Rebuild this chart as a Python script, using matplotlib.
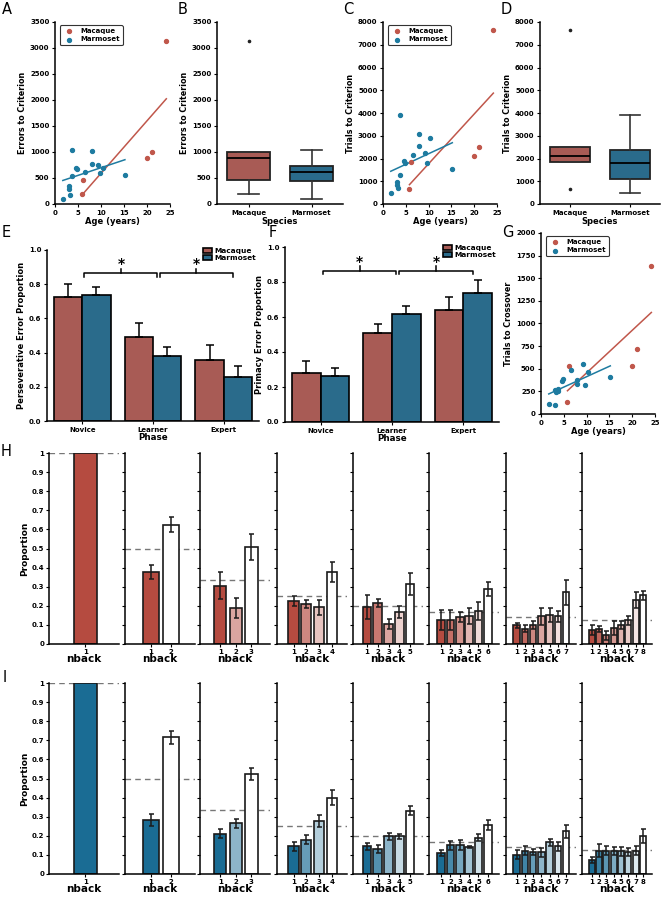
import numpy as np
import matplotlib
matplotlib.use("Agg")
import matplotlib.pyplot as plt
from matplotlib.colors import to_rgb

plt.rcParams['font.family'] = ['DejaVu Sans']
plt.rcParams['font.weight'] = 'bold'
plt.rcParams['axes.labelweight'] = 'bold'
plt.rcParams['axes.linewidth'] = 1.1
plt.rcParams['xtick.major.width'] = 0.8
plt.rcParams['ytick.major.width'] = 0.8
plt.rcParams['xtick.major.size'] = 2.5
plt.rcParams['ytick.major.size'] = 2.5

# ---------------------------------------------------------------- data
mac_age = [5.8, 6.1, 20.0, 21.0, 24.2]
mac_errors = [190, 460, 890, 1006, 3140]
mac_trials = [650, 1840, 2110, 2520, 7650]
mac_crossover = [133, 533, 530, 720, 1630]

mar_age = [1.7, 3.1, 3.1, 3.2, 3.8, 3.8, 4.5, 4.8, 6.5, 8.0, 8.0, 9.3, 9.7, 10.4, 15.2]
mar_errors = [102, 340, 282, 173, 1045, 530, 700, 675, 622, 1015, 765, 744, 600, 698, 555]
mar_trials = [497, 954, 822, 690, 3925, 1275, 1905, 1789, 2139, 3077, 2550, 2229, 1789, 2886, 1524]
mar_crossover = [110, 96, 265, 243, 250, 280, 364, 386, 485, 375, 327, 551, 320, 460, 411]

phases = ['Novice', 'Learner', 'Expert']
persev_mac = [0.727, 0.493, 0.357]
persev_mac_err = [0.073, 0.078, 0.086]
persev_mar = [0.739, 0.382, 0.259]
persev_mar_err = [0.045, 0.053, 0.064]
primacy_mac = [0.28, 0.51, 0.64]
primacy_mac_err = [0.07, 0.05, 0.074]
primacy_mar = [0.263, 0.617, 0.737]
primacy_mar_err = [0.047, 0.046, 0.073]

# nback proportions, one list per number of options (1..8)
mac_nback = [
    [1.0],
    [0.377, 0.625],
    [0.305, 0.188, 0.508],
    [0.225, 0.209, 0.192, 0.377],
    [0.194, 0.215, 0.106, 0.168, 0.314],
    [0.126, 0.126, 0.14, 0.148, 0.173, 0.288],
    [0.098, 0.08, 0.098, 0.145, 0.154, 0.145, 0.27],
    [0.073, 0.079, 0.045, 0.084, 0.098, 0.124, 0.23, 0.255],
]
mac_nback_err = [
    [0.0],
    [0.036, 0.038],
    [0.07, 0.054, 0.066],
    [0.027, 0.023, 0.04, 0.051],
    [0.062, 0.021, 0.027, 0.031, 0.06],
    [0.052, 0.052, 0.025, 0.041, 0.045, 0.037],
    [0.012, 0.017, 0.022, 0.044, 0.037, 0.03, 0.064],
    [0.028, 0.015, 0.025, 0.035, 0.02, 0.022, 0.042, 0.025],
]
mar_nback = [
    [1.0],
    [0.283, 0.715],
    [0.212, 0.265, 0.523],
    [0.146, 0.179, 0.277, 0.4],
    [0.144, 0.132, 0.197, 0.197, 0.332],
    [0.11, 0.15, 0.15, 0.141, 0.19, 0.257],
    [0.1, 0.123, 0.115, 0.113, 0.165, 0.144, 0.223],
    [0.073, 0.123, 0.123, 0.12, 0.118, 0.113, 0.123, 0.197],
]
mar_nback_err = [
    [0.0],
    [0.033, 0.033],
    [0.025, 0.022, 0.033],
    [0.024, 0.023, 0.031, 0.038],
    [0.02, 0.02, 0.02, 0.013, 0.022],
    [0.014, 0.022, 0.026, 0.007, 0.017, 0.026],
    [0.024, 0.024, 0.018, 0.025, 0.018, 0.024, 0.033],
    [0.016, 0.033, 0.023, 0.02, 0.022, 0.021, 0.022, 0.037],
]

MAC_PT = '#C0574B'
MAR_PT = '#1E7BA0'
MAC_BAR = '#A85B55'
MAR_BAR = '#2A6B8B'
H_BASE = '#B54B40'
I_BASE = '#1A6C94'

W, H = 665, 899
fig = plt.figure(figsize=(W / 100, H / 100), dpi=100)


def add_ax(x0, y0, x1, y1):
    return fig.add_axes([x0 / W, 1 - y1 / H, (x1 - x0) / W, (y1 - y0) / H])


def clean(ax):
    ax.spines['top'].set_visible(False)
    ax.spines['right'].set_visible(False)
    ax.tick_params(labelsize=5, pad=1.5)


def letter(x, y, s):
    fig.text(x / W, 1 - y / H, s, fontsize=10.5, fontweight='normal',
             ha='center', va='center')


def scatter_panel(ax, mac_y, mar_y, ymax, ystep, ylabel):
    ax.scatter(mac_age, mac_y, s=8, color=MAC_PT, label='Macaque', zorder=3)
    ax.scatter(mar_age, mar_y, s=8, color=MAR_PT, label='Marmoset', zorder=3)
    for ages, vals, c in [(mac_age, mac_y, MAC_PT), (mar_age, mar_y, MAR_PT)]:
        fit = np.polyfit(ages, vals, 1)
        xs = np.array([min(ages), max(ages)])
        ax.plot(xs, np.polyval(fit, xs), color=c, lw=1.1, zorder=2)
    ax.set_xlim(0, 25)
    ax.set_ylim(0, ymax)
    ax.set_xticks(range(0, 26, 5))
    ax.set_yticks(np.arange(0, ymax + 1, ystep))
    ax.set_xlabel('Age (years)', fontsize=6, labelpad=1)
    ax.set_ylabel(ylabel, fontsize=5.8, labelpad=2)
    leg = ax.legend(loc='upper left', fontsize=5, handletextpad=0.6,
                    borderpad=0.4, labelspacing=0.3, fancybox=True,
                    bbox_to_anchor=(0.01, 1.0), framealpha=1)
    leg.get_frame().set_edgecolor('#333333')
    leg.get_frame().set_linewidth(0.8)
    clean(ax)


def box_panel(ax, mac_y, mar_y, ymax, ystep, ylabel):
    bp = ax.boxplot([mac_y, mar_y], positions=[0, 1], widths=0.68,
                    patch_artist=True, capwidths=0.34,
                    medianprops=dict(color='black', lw=1.3),
                    whiskerprops=dict(color='#333333', lw=1.2),
                    capprops=dict(color='#333333', lw=1.2),
                    boxprops=dict(edgecolor='#222222', lw=1.3),
                    flierprops=dict(marker='o', markersize=1.6,
                                    markerfacecolor='#222222',
                                    markeredgecolor='#222222'))
    for patch, c in zip(bp['boxes'], [MAC_BAR, MAR_BAR]):
        patch.set_facecolor(c)
    ax.set_xlim(-0.5, 1.5)
    ax.set_ylim(0, ymax)
    ax.set_yticks(np.arange(0, ymax + 1, ystep))
    ax.set_xticks([0, 1])
    ax.set_xticklabels(['Macaque', 'Marmoset'], fontsize=5.3)
    ax.set_xlabel('Species', fontsize=6, labelpad=1)
    ax.set_ylabel(ylabel, fontsize=5.8, labelpad=2)
    clean(ax)


def bracket(ax, x1, x2, y):
    ax.plot([x1, x1, x2, x2], [y - 0.02, y, y, y - 0.02], color='black', lw=1.1)
    xm = (x1 + x2) / 2
    ax.plot([xm, xm], [y, y + 0.025], color='black', lw=1.1)
    ax.text(xm, y + 0.012, '*', ha='center', va='bottom', fontsize=10)


def phase_panel(ax, mac, mac_err, mar, mar_err, ylabel):
    x = np.arange(len(phases))
    ax.bar(x - 0.2, mac, width=0.4, color=MAC_BAR, edgecolor='black', lw=1.2,
           label='Macaque')
    ax.bar(x + 0.2, mar, width=0.4, color=MAR_BAR, edgecolor='black', lw=1.2,
           label='Marmoset')
    ax.errorbar(x - 0.2, mac, yerr=[np.zeros(3), mac_err], fmt='none',
                ecolor='black', elinewidth=1.1, capsize=3, capthick=1.1)
    ax.errorbar(x + 0.2, mar, yerr=[np.zeros(3), mar_err], fmt='none',
                ecolor='black', elinewidth=1.1, capsize=3, capthick=1.1)
    bracket(ax, 0.03, 1.06, 0.865)
    bracket(ax, 1.1, 2.13, 0.865)
    ax.set_xlim(-0.5, 2.5)
    ax.set_ylim(0, 1.0)
    ax.set_yticks(np.arange(0, 1.01, 0.2))
    ax.set_yticklabels([f'{v:.1f}' for v in np.arange(0, 1.01, 0.2)])
    ax.set_xticks(x)
    ax.set_xticklabels(phases, fontsize=5.3)
    ax.set_xlabel('Phase', fontsize=6.3, labelpad=0)
    ax.set_ylabel(ylabel, fontsize=6, labelpad=2)
    ax.legend(loc='upper right', bbox_to_anchor=(1.0, 1.03), frameon=False,
              fontsize=5.3, handlelength=1.2, handleheight=0.7,
              handletextpad=0.3, labelspacing=0.15, borderaxespad=0)
    clean(ax)


def nback_row(vals, errs, base, y0, y1):
    lefts = [49, 125, 200, 277, 353, 429, 506, 582]
    base_rgb = np.array(to_rgb(base))
    for k, (v, e) in enumerate(zip(vals, errs)):
        n = len(v)
        ax = add_ax(lefts[k], y0, lefts[k] + 70, y1)
        if n == 1:
            cols = [base_rgb]
        else:
            cols = [base_rgb + (1 - base_rgb) * i / (n - 1) for i in range(n)]
        xs = np.arange(1, n + 1)
        ax.bar(xs, v, width=0.8, color=cols, edgecolor='#1a1a1a', lw=1.2)
        if n > 1:
            ax.errorbar(xs, v, yerr=e, fmt='none', ecolor='#1a1a1a',
                        elinewidth=1.1, capsize=1.8, capthick=1.1)
        ax.axhline(1 / n, color='#777777', ls=(0, (4, 3)), lw=1.0, zorder=0)
        ax.set_xlim(-0.3, n + 1.2)
        ax.set_ylim(0, 1)
        ax.set_xticks(xs)
        ax.set_xticklabels([str(i) for i in xs], fontsize=5.3)
        ax.set_yticks(np.arange(0, 1.01, 0.1))
        if k == 0:
            ax.set_yticklabels(['0'] + [f'{t:.1f}' for t in np.arange(0.1, 0.95, 0.1)] + ['1'])
            ax.set_ylabel('Proportion', fontsize=6.5, labelpad=2)
        else:
            ax.set_yticklabels([])
        ax.set_xlabel('nback', fontsize=7.5, labelpad=-0.5)
        ax.spines['top'].set_visible(False)
        ax.spines['right'].set_visible(False)
        ax.tick_params(labelsize=5, pad=1)


# ---------------------------------------------------------------- top row
axA = add_ax(55, 22, 170, 204)
scatter_panel(axA, mac_errors, mar_errors, 3500, 500, 'Errors to Criterion')
axB = add_ax(217, 22, 343, 204)
box_panel(axB, mac_errors, mar_errors, 3500, 500, 'Errors to Criterion')
axC = add_ax(383, 22, 497, 204)
scatter_panel(axC, mac_trials, mar_trials, 8000, 1000, 'Trials to Criterion')
axD = add_ax(540, 22, 660, 204)
box_panel(axD, mac_trials, mar_trials, 8000, 1000, 'Trials to Criterion')

# ---------------------------------------------------------------- middle row
axE = add_ax(47, 250, 259, 421)
phase_panel(axE, persev_mac, persev_mac_err, persev_mar, persev_mar_err,
            'Perseverative Error Proportion')
axF = add_ax(285, 247, 499, 422)
phase_panel(axF, primacy_mac, primacy_mac_err, primacy_mar, primacy_mar_err,
            'Primacy Error Proportion')
axG = add_ax(541, 233, 655, 414)
scatter_panel(axG, mac_crossover, mar_crossover, 2000, 250, 'Trials to Crossover')

# ---------------------------------------------------------------- nback rows
nback_row(mac_nback, mac_nback_err, H_BASE, 453, 644)
nback_row(mar_nback, mar_nback_err, I_BASE, 683, 874)

for x, y, s in [(7, 10, 'A'), (183, 10, 'B'), (348, 10, 'C'), (506, 10, 'D'),
                (6, 233, 'E'), (273, 233, 'F'), (508, 233, 'G'),
                (6, 451, 'H'), (5, 677, 'I')]:
    letter(x, y, s)

fig.savefig('out.png', dpi=100)
